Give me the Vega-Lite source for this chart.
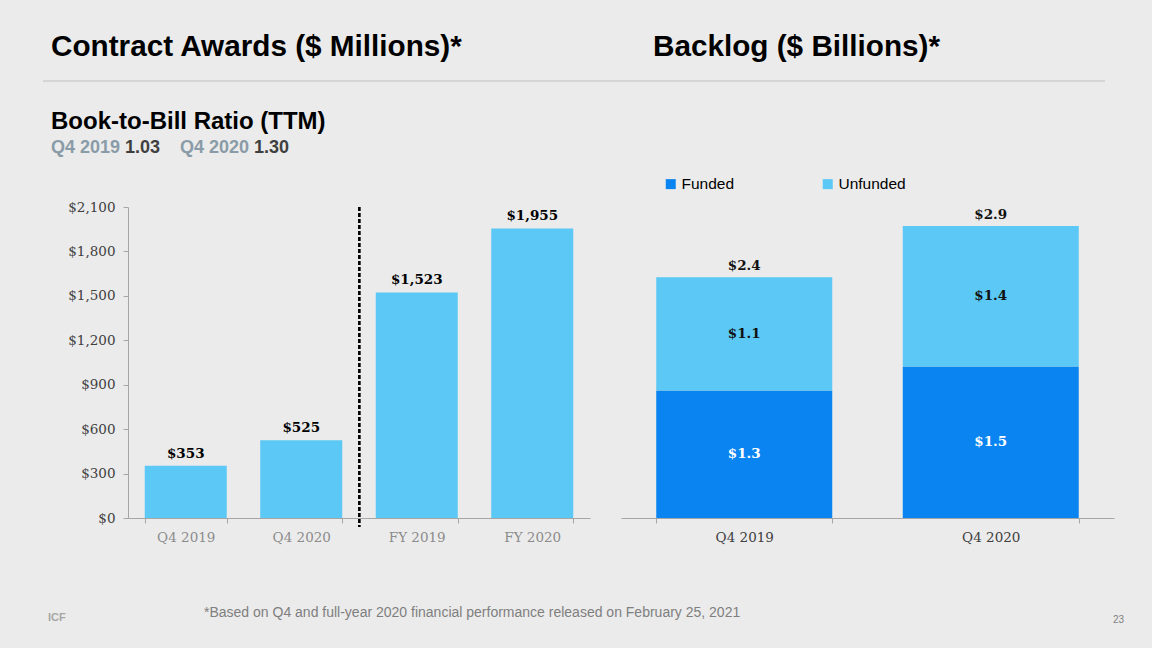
{
  "$schema": "https://vega.github.io/schema/vega-lite/v6.json",
  "background": "#EBEBEB",
  "padding": {"left": 42, "top": 20, "right": 0, "bottom": 23},
  "autosize": {"type": "pad"},
  "bounds": "flush",
  "spacing": 55,
  "resolve": {"scale": {"color": "independent"}, "legend": {"color": "independent"}},
  "config": {"font": "Liberation Sans", "view": {"stroke": null}},
  "vconcat": [
    {
      "width": 1025, "height": 61,
      "data": {"values": [{"panel": "Contract Awards ($ Millions)*"}, {"panel": "Backlog ($ Billions)*"}]},
      "layer": [
        {
          "mark": {"type": "text", "align": "left", "baseline": "alphabetic", "y": 36, "fontSize": 29.7, "fontWeight": "bold", "color": "#000000", "font": "Liberation Sans"},
          "encoding": {
            "x": {"field": "panel", "type": "nominal", "sort": null, "scale": {"type": "point", "range": [-77, 525], "padding": 0}, "axis": null},
            "text": {"field": "panel"}
          }
        },
        {
          "data": {"values": [{"rule": "separator"}]},
          "mark": {"type": "rule", "color": "#BFBFBF", "strokeWidth": 1.2},
          "encoding": {"x": {"value": -85}, "x2": {"value": 977}, "y": {"value": 61}}
        },
        {
          "data": {"values": [{"note": "*Based on Q4 and full-year 2020 financial performance released on February 25, 2021"}]},
          "mark": {"type": "text", "align": "left", "baseline": "alphabetic", "x": 76, "y": 597, "fontSize": 14, "color": "#7F7F7F", "font": "Liberation Sans"},
          "encoding": {"text": {"field": "note"}}
        },
        {
          "data": {"values": [{"page": "23"}]},
          "mark": {"type": "text", "align": "left", "baseline": "alphabetic", "x": 985, "y": 603, "fontSize": 10, "color": "#7F7F7F"},
          "encoding": {"text": {"field": "page"}}
        },
        {
          "data": {"values": [{"logo": "ICF"}]},
          "mark": {"type": "text", "align": "left", "baseline": "alphabetic", "x": -80, "y": 601, "fontSize": 11, "fontWeight": "bold", "color": "#A6A6A6"},
          "encoding": {"text": {"field": "logo"}}
        }
      ]
    },
    {
      "width": 1025, "height": 16,
      "title": {"text": "Book-to-Bill Ratio (TTM)", "anchor": "start", "fontSize": 24, "fontWeight": "bold", "color": "#000000", "font": "Liberation Sans", "offset": 2},
      "data": {"values": [{"period": "Q4 2019", "ratio": 1.03}, {"period": "Q4 2020", "ratio": 1.30}]},
      "encoding": {
        "x": {"field": "period", "type": "nominal", "sort": null, "scale": {"type": "point", "range": [-77, 52], "padding": 0}, "axis": null}
      },
      "layer": [
        {
          "mark": {"type": "text", "align": "left", "baseline": "alphabetic", "y": 17, "fontSize": 18, "fontWeight": "bold", "color": "#8A9BA8"},
          "encoding": {"text": {"field": "period"}}
        },
        {
          "mark": {"type": "text", "align": "left", "baseline": "alphabetic", "y": 17, "dx": 74, "fontSize": 18, "fontWeight": "bold", "color": "#3F3F3F"},
          "encoding": {"text": {"field": "ratio", "type": "quantitative", "format": ".2f"}}
        }
      ]
    },
    {
      "bounds": "flush",
      "spacing": 31,
      "resolve": {"scale": {"color": "independent"}, "legend": {"color": "independent"}},
      "hconcat": [
        {
          "width": 462, "height": 311,
          "data": {"values": [
            {"period": "Q4 2019", "awards": 353},
            {"period": "Q4 2020", "awards": 525},
            {"period": "FY 2019", "awards": 1523},
            {"period": "FY 2020", "awards": 1955}
          ]},
          "encoding": {
            "x": {"field": "period", "type": "ordinal", "sort": null,
              "scale": {"paddingInner": 0.29, "paddingOuter": 0.145},
              "axis": {"title": null, "labelAngle": 0, "domainColor": "#A6A6A6", "tickColor": "#A6A6A6", "tickBand": "extent", "tickSize": 5,
                "labelFont": "DejaVu Serif", "labelFontSize": 13.5, "labelColor": "#8C8C8C", "labelPadding": 7}}
          },
          "layer": [
            {
              "mark": {"type": "bar", "color": "#5BC8F5"},
              "encoding": {
                "y": {"field": "awards", "type": "quantitative", "scale": {"domain": [0, 2100], "nice": false},
                  "axis": {"title": null, "values": [0, 300, 600, 900, 1200, 1500, 1800, 2100], "format": "$,.0f", "grid": false,
                    "domainColor": "#A6A6A6", "tickColor": "#A6A6A6", "tickSize": 5,
                    "labelFont": "DejaVu Serif", "labelFontSize": 13.5, "labelColor": "#404040", "labelPadding": 8}}
              }
            },
            {
              "mark": {"type": "text", "baseline": "bottom", "dy": -5, "font": "DejaVu Serif", "fontWeight": "bold", "fontSize": 13.5, "color": "#000000"},
              "encoding": {
                "y": {"field": "awards", "type": "quantitative"},
                "text": {"field": "awards", "type": "quantitative", "format": "$,.0f"}
              }
            },
            {
              "mark": {"type": "rule", "strokeDash": [4, 2], "color": "#000000", "strokeWidth": 1.8},
              "encoding": {
                "x": {"datum": "FY 2019", "bandPosition": -0.2},
                "y": {"datum": 2100},
                "y2": {"datum": -60}
              }
            }
          ]
        },
        {
          "width": 493, "height": 311,
          "data": {"values": [
            {"period": "Q4 2019", "series": "Funded", "backlog": 1.27},
            {"period": "Q4 2019", "series": "Unfunded", "backlog": 1.13},
            {"period": "Q4 2020", "series": "Funded", "backlog": 1.51},
            {"period": "Q4 2020", "series": "Unfunded", "backlog": 1.40}
          ]},
          "encoding": {
            "x": {"field": "period", "type": "ordinal", "sort": null,
              "scale": {"paddingInner": 0.286, "paddingOuter": 0.143},
              "axis": {"title": null, "labelAngle": 0, "domainColor": "#A6A6A6", "tickColor": "#A6A6A6", "tickBand": "extent", "tickSize": 5,
                "labelFont": "DejaVu Serif", "labelFontSize": 13.5, "labelColor": "#404040", "labelPadding": 7}}
          },
          "layer": [
            {
              "mark": {"type": "bar"},
              "encoding": {
                "y": {"field": "backlog", "type": "quantitative", "stack": "zero", "scale": {"domain": [0, 3.1], "nice": false}, "axis": null},
                "order": {"field": "series", "type": "nominal", "sort": "ascending"},
                "color": {"field": "series", "type": "nominal",
                  "scale": {"domain": ["Funded", "Unfunded"], "range": ["#0A84F0", "#5BC8F5"]},
                  "legend": {"orient": "none", "legendX": 42, "legendY": -31, "direction": "horizontal", "title": null,
                    "symbolType": "square", "symbolSize": 100, "symbolStrokeWidth": 0, "symbolOpacity": 1,
                    "labelFont": "Liberation Sans", "labelFontSize": 15.5, "labelColor": "#000000", "labelOffset": 3, "columnPadding": 85}}
              }
            },
            {
              "mark": {"type": "text", "baseline": "middle", "font": "DejaVu Serif", "fontWeight": "bold", "fontSize": 13.5},
              "encoding": {
                "y": {"field": "backlog", "type": "quantitative", "stack": "zero", "bandPosition": 0.5},
                "detail": {"field": "series"},
                "order": {"field": "series", "type": "nominal", "sort": "ascending"},
                "text": {"field": "backlog", "type": "quantitative", "format": "$.1f"},
                "color": {"condition": {"test": "datum.series === 'Funded'", "value": "#FFFFFF"}, "value": "#111111"}
              }
            },
            {
              "mark": {"type": "text", "baseline": "bottom", "dy": -4, "font": "DejaVu Serif", "fontWeight": "bold", "fontSize": 13.5, "color": "#111111"},
              "encoding": {
                "y": {"aggregate": "sum", "field": "backlog", "type": "quantitative"},
                "text": {"aggregate": "sum", "field": "backlog", "type": "quantitative", "format": "$.1f"}
              }
            }
          ]
        }
      ]
    }
  ]
}
